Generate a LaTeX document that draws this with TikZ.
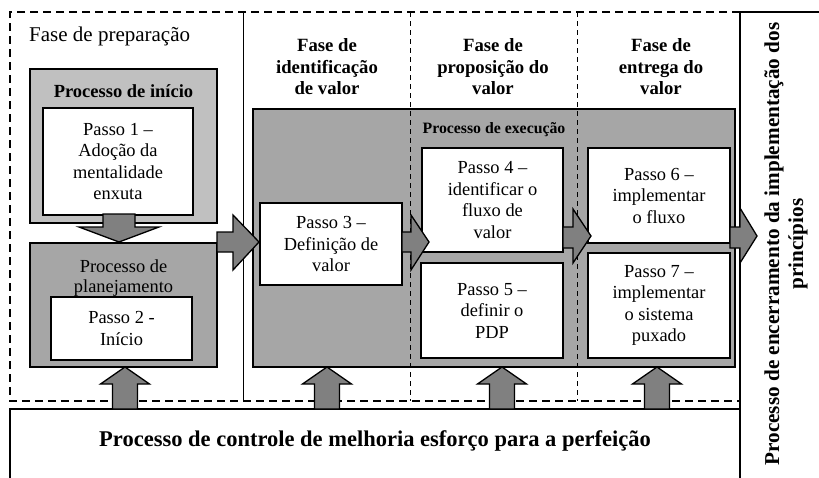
\documentclass[tikz,border=0pt]{standalone}
\usepackage{fontspec}
\setmainfont{Liberation Serif}
\definecolor{lightg}{HTML}{C0C0C0}
\definecolor{midg}{HTML}{A6A6A6}
\definecolor{arrowgray}{HTML}{808080}
\begin{document}
\begin{tikzpicture}[x=1pt,y=-1pt,
  frame/.style={line width=1.3pt},
  dashframe/.style={line width=1.3pt, dash pattern=on 8pt off 5pt},
  divider/.style={line width=1pt, dash pattern=on 5pt off 4pt},
  gbox/.style={draw=black, line width=1.8pt, inner sep=0pt},
  passo/.style={draw=black, line width=1.8pt, fill=white, align=center, inner sep=0pt, font=\fontsize{18.4}{21.5}\selectfont},
  barrow/.style={draw=black, fill=arrowgray, line width=1.3pt, line join=miter},
  phase/.style={align=center, font=\bfseries\fontsize{18.7}{21.5}\selectfont},
]
\useasboundingbox (0,0) rectangle (819,477);
\fill[white] (0,0) rectangle (819,477);

% closing box and bottom control box
\draw[frame] (740,12) -- (740,480);
\draw[frame] (740,12) -- (820,12);
\draw[frame] (10,480) -- (10,409) -- (740,409);

% dashed outer frame and separators
\draw[dashframe] (740,12) -- (10,12) -- (10,401) -- (740,401);
\draw[line width=1pt] (243,12) -- (243,401);

% process boxes
\node[gbox, fill=lightg, minimum width=187, minimum height=154] (inicio) at (123.5,146) {};
\node[gbox, fill=midg, minimum width=187, minimum height=124] (plan) at (123.5,305) {};
\node[gbox, fill=midg, minimum width=482, minimum height=258] (exec) at (494,238) {};

\draw[divider] (410,12) -- (410,401);
\draw[divider] (577,12) -- (577,401);

% steps
\node[passo, minimum width=150, minimum height=107] (p1) at (118,161.5) {Passo 1 –\\Adoção da\\mentalidade\\enxuta};
\node[passo, minimum width=141, minimum height=63] (p2) at (121.5,328.5) {Passo 2 -\\Início};
\node[passo, minimum width=142, minimum height=82] (p3) at (331,244) {Passo 3 –\\Definição de\\valor};
\node[passo, minimum width=141, minimum height=104] (p4) at (492.5,200) {Passo 4 –\\identificar o\\fluxo de\\valor};
\node[passo, minimum width=142, minimum height=95] (p5) at (492,310.5) {Passo 5 –\\definir o\\PDP};
\node[passo, minimum width=142, minimum height=95] (p6) at (659,195.5) {Passo 6 –\\implementar\\o fluxo};
\node[passo, minimum width=142, minimum height=105] (p7) at (659,305.5) {Passo 7 –\\implementar\\o sistema\\puxado};

% block arrows
\draw[barrow] (103,214) -- (103,227) -- (79,227) -- (119,242) -- (159,227) -- (135,227) -- (135,214) -- cycle;
\draw[barrow] (217,232) -- (233,232) -- (233,215) -- (259,242) -- (233,270) -- (233,252) -- (217,252) -- cycle;
\draw[barrow] (402,232) -- (411,232) -- (411,215) -- (429,242) -- (411,270) -- (411,252) -- (402,252) -- cycle;
\draw[barrow] (563,227) -- (573,227) -- (573,209) -- (591,236) -- (573,263) -- (573,248) -- (563,248) -- cycle;
\draw[barrow] (730,227) -- (740,227) -- (740,208) -- (757,236) -- (740,263) -- (740,248) -- (730,248) -- cycle;
\foreach \cx/\nm in {125/u1,327/u2,502/u3,657/u4}{
  \draw[barrow] (\cx-12.5,409) -- (\cx-12.5,384) -- (\cx-24.5,384) -- (\cx,367) -- (\cx+24.5,384) -- (\cx+12.5,384) -- (\cx+12.5,409) -- cycle;
}

% texts
\node[anchor=west, font=\fontsize{21}{24}\selectfont, inner sep=0pt] (prep) at (29,36) {Fase de preparação};
\node[phase] (fid) at (327,67) {Fase de\\identificação\\de valor};
\node[phase] (fprop) at (493,67) {Fase de\\proposição do\\valor};
\node[phase] (fent) at (661,67) {Fase de\\entrega do\\valor};
\node[font=\bfseries\fontsize{18.5}{21}\selectfont] (inicioT) at (123.5,91) {Processo de início};
\node[align=center, font=\fontsize{18.4}{20}\selectfont] (planT) at (123.5,278) {Processo de\\planejamento};
\node[font=\bfseries\fontsize{15.8}{18}\selectfont] (execT) at (494,130) {Processo de execução};
\node[font=\bfseries\fontsize{22.5}{26}\selectfont] (ctrl) at (375,441) {Processo de controle de melhoria esforço para a perfeição};
\node[rotate=90, align=center, font=\bfseries\fontsize{21.2}{24}\selectfont] (enc) at (786,244) {Processo de encerramento da implementação dos\\princípios};
\end{tikzpicture}
\end{document}
